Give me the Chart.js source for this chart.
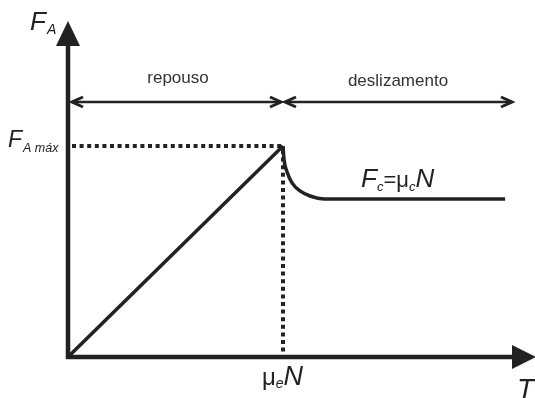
<!DOCTYPE html>
<html>
<head>
<meta charset="utf-8">
<script src="https://cdn.jsdelivr.net/npm/chart.js@4"></script>
<style>
  html, body { margin: 0; padding: 0; background: #fff; }
  #wrap { width: 535px; height: 398px; }
</style>
</head>
<body>
<div id="wrap"><canvas id="grafica"></canvas></div>
<script>
// Dados (unidades: T em múltiplos de μeN, F em múltiplos de F_A máx)
const tRepouso = [0, 1];
const fRepouso = [0, 1];
const tDeslizamento = [1, 1.005, 1.019, 1.042, 1.079, 1.126, 1.195, 2.033];
const fDeslizamento = [1, 0.934, 0.877, 0.825, 0.787, 0.763, 0.749, 0.749];
const rotulos = { y: 'F', yIndice: 'A', yMax: 'F', yMaxIndice: 'A máx', xPico: 'μ', xPicoIndice: 'e', x: 'T' };
const regioes = ['repouso', 'deslizamento'];

const COR = '#222';
const FONTE = '"Liberation Sans", Arial, sans-serif';

function pares(xs, ys) {
    return xs.map((x, i) => ({ x: x, y: ys[i] }));
}

// Desenha texto com partes (índices, itálico)
function textoRico(ctx, x, y, partes) {
    let cx = x;
    partes.forEach(p => {
        ctx.font = (p.italic ? 'italic ' : '') + p.size + 'px ' + FONTE;
        ctx.fillText(p.t, cx, y + (p.dy || 0));
        cx += ctx.measureText(p.t).width + (p.gap || 0);
    });
}

function setaAberta(ctx, x, y, dir) {
    ctx.beginPath();
    ctx.moveTo(x - dir * 11, y - 5);
    ctx.lineTo(x, y);
    ctx.lineTo(x - dir * 11, y + 5);
    ctx.stroke();
}

const plugDiagrama = {
    id: 'diagrama',
    afterDatasetsDraw(chart) {
        const ctx = chart.ctx;
        const sx = chart.scales.x, sy = chart.scales.y;
        const x0 = sx.getPixelForValue(0), y0 = sy.getPixelForValue(0);
        const xp = sx.getPixelForValue(tRepouso[1]), yp = sy.getPixelForValue(fRepouso[1]);
        ctx.save();
        ctx.strokeStyle = COR;
        ctx.fillStyle = COR;

        // linhas pontilhadas
        ctx.lineWidth = 4;
        ctx.setLineDash([4, 3.6]);
        ctx.beginPath();
        ctx.moveTo(x0 + 4, yp);
        ctx.lineTo(xp, yp);
        ctx.moveTo(xp, yp + 4);
        ctx.lineTo(xp, y0);
        ctx.stroke();
        ctx.setLineDash([]);

        // eixos
        ctx.lineWidth = 4.5;
        ctx.beginPath();
        ctx.moveTo(x0, y0 + 2);
        ctx.lineTo(x0, 45);
        ctx.moveTo(x0 - 2, y0);
        ctx.lineTo(513, y0);
        ctx.stroke();
        ctx.beginPath();
        ctx.moveTo(x0, 21);
        ctx.lineTo(x0 - 12, 46);
        ctx.lineTo(x0 + 12, 46);
        ctx.closePath();
        ctx.fill();
        ctx.beginPath();
        ctx.moveTo(536, y0);
        ctx.lineTo(512, y0 - 12);
        ctx.lineTo(512, y0 + 12);
        ctx.closePath();
        ctx.fill();

        // setas duplas
        const ya = 102;
        ctx.lineWidth = 2.5;
        ctx.beginPath();
        ctx.moveTo(x0 + 4, ya);
        ctx.lineTo(xp - 2, ya);
        ctx.moveTo(xp + 2, ya);
        ctx.lineTo(512, ya);
        ctx.stroke();
        ctx.lineWidth = 3;
        setaAberta(ctx, x0 + 4, ya, -1);
        setaAberta(ctx, xp - 2, ya, 1);
        setaAberta(ctx, xp + 2, ya, -1);
        setaAberta(ctx, 512, ya, 1);

        // textos
        ctx.fillStyle = '#333';
        ctx.textBaseline = 'alphabetic';
        ctx.font = '17px ' + FONTE;
        let w = ctx.measureText(regioes[0]).width;
        ctx.fillText(regioes[0], 178 - w / 2, 83);
        w = ctx.measureText(regioes[1]).width;
        ctx.fillText(regioes[1], 398 - w / 2, 86);

        ctx.fillStyle = COR;
        textoRico(ctx, 30, 30, [
            { t: rotulos.y, size: 26, italic: true, gap: 1 },
            { t: rotulos.yIndice, size: 14, italic: true, dy: 4 }
        ]);
        textoRico(ctx, 8, yp + 1, [
            { t: rotulos.yMax, size: 23, italic: true, gap: 1 },
            { t: rotulos.yMaxIndice, size: 12.5, italic: true, dy: 5 }
        ]);
        textoRico(ctx, 262, 385, [
            { t: rotulos.xPico, size: 24 },
            { t: rotulos.xPicoIndice, size: 14, italic: true, dy: 3 },
            { t: 'N', size: 27, italic: true }
        ]);
        textoRico(ctx, 361, 187, [
            { t: 'F', size: 26, italic: true },
            { t: 'c', size: 13, italic: true, dy: 4 },
            { t: '=', size: 22 },
            { t: 'μ', size: 22 },
            { t: 'c', size: 13, italic: true, dy: 4 },
            { t: 'N', size: 26, italic: true }
        ]);
        ctx.font = 'italic 28px ' + FONTE;
        ctx.fillText(rotulos.x, 517, 398);
        ctx.restore();
    }
};

const grafica = new Chart(document.getElementById('grafica').getContext('2d'), {
    type: 'scatter',
    data: {
        datasets: [{
            data: pares(tRepouso, fRepouso),
            showLine: true,
            borderColor: COR,
            borderWidth: 3.5,
            pointRadius: 0,
            tension: 0
        }, {
            data: pares(tDeslizamento, fDeslizamento),
            showLine: true,
            borderColor: COR,
            borderWidth: 3.5,
            pointRadius: 0,
            cubicInterpolationMode: 'monotone'
        }]
    },
    options: {
        responsive: true,
        maintainAspectRatio: false,
        animation: false,
        layout: { padding: { left: 68, top: 40.5, right: 15.5, bottom: 41 } },
        plugins: {
            legend: { display: false },
            tooltip: { enabled: false }
        },
        scales: {
            x: { type: 'linear', min: 0, max: 2.1, display: false },
            y: { type: 'linear', min: 0, max: 1.5, display: false }
        }
    },
    plugins: [plugDiagrama]
});
</script>
</body>
</html>
